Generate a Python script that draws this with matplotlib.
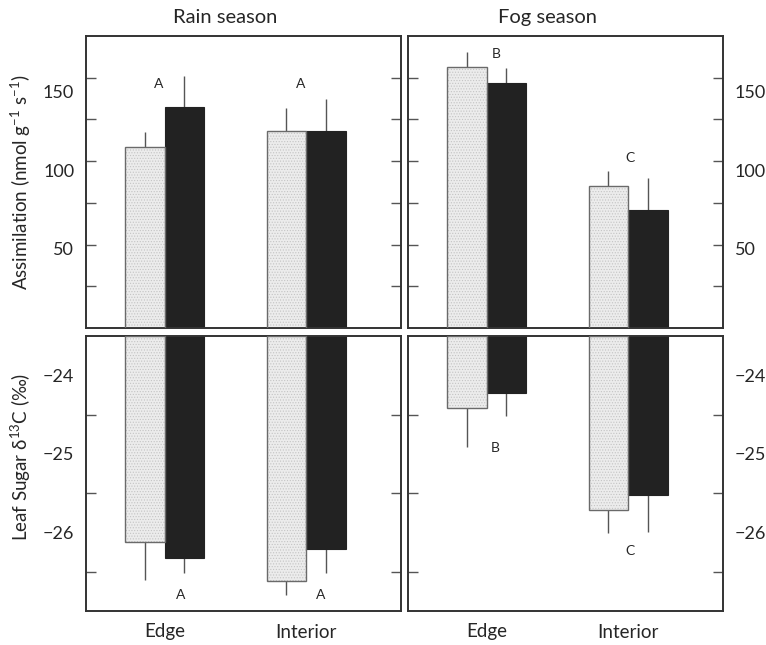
import numpy as np
import matplotlib
matplotlib.use('Agg')
import matplotlib.pyplot as plt
from matplotlib.ticker import FixedLocator, FixedFormatter, NullFormatter

plt.rcParams['font.family'] = ['Lato', 'DejaVu Sans']
plt.rcParams['hatch.linewidth'] = 0.5

groups = ['Edge', 'Interior']
seasons = ['Rain season', 'Fog season']

# Assimilation (nmol g-1 s-1): light = first series, dark = second series
rain_assim_light = [108.6, 118.1]
rain_assim_light_err = [9.0, 14.0]
rain_assim_dark = [132.3, 118.1]
rain_assim_dark_err = [18.5, 19.0]
fog_assim_light = [156.2, 84.9]
fog_assim_light_err = [9.0, 9.3]
fog_assim_dark = [146.8, 70.9]
fog_assim_dark_err = [9.0, 18.7]

# Leaf sugar d13C (permil)
rain_d13c_light = [-26.12, -26.62]
rain_d13c_light_err = [0.49, 0.18]
rain_d13c_dark = [-26.32, -26.21]
rain_d13c_dark_err = [0.20, 0.31]
fog_d13c_light = [-24.41, -25.71]
fog_d13c_light_err = [0.50, 0.30]
fog_d13c_dark = [-24.22, -25.52]
fog_d13c_dark_err = [0.30, 0.48]

# significance letters and where they sit (value axis)
rain_assim_letters = ['A', 'A']
rain_assim_letter_y = [146, 146]
fog_assim_letters = ['B', 'C']
fog_assim_letter_y = [164, 102]
rain_d13c_letters = ['A', 'A']
rain_d13c_letter_y = [-26.8, -26.8]
fog_d13c_letters = ['B', 'C']
fog_d13c_letter_y = [-24.93, -26.23]

# tick marks and labels; in the original the assimilation labels sit
# a little below their tick marks
assim_ticks = [25, 50, 75, 100, 125, 150]
assim_labels = ['50', '100', '150']
assim_label_y = [47.6, 94.6, 141.6]
d13c_ticks = [-26.5, -26, -25.5, -25, -24.5, -24]
d13c_labels = ['\u221226', '\u221225', '\u221224']
d13c_label_y = [-26, -25, -24]

W = 766 / 100
H = 645 / 100
fig = plt.figure(figsize=(W, H), dpi=100)


def px_axes(left, top, right, bottom):
    return fig.add_axes([left / 766, 1 - bottom / 645,
                         (right - left) / 766, (bottom - top) / 645])


ax_tl = px_axes(86, 36, 401, 328)
ax_tr = px_axes(408, 36, 723, 328)
ax_bl = px_axes(86, 336, 401, 611)
ax_br = px_axes(408, 336, 723, 611)

x = np.arange(len(groups))
width = 0.28
edge_gray = '#6a6a6a'
err_color = '#555555'
text_color = '#262626'


def draw_bars(ax, light, light_err, dark, dark_err, base, down):
    light = np.array(light)
    dark = np.array(dark)
    for pos, vals, errs, dark_bar in [(x - width / 2, light, light_err, False),
                                      (x + width / 2, dark, dark_err, True)]:
        if dark_bar:
            ax.bar(pos, vals - base, width, bottom=base, color='#222222',
                   edgecolor='#222222', linewidth=0.8, zorder=2)
        else:
            ax.bar(pos, vals - base, width, bottom=base, color='#ececec',
                   edgecolor='#c4c4c4', hatch='......', linewidth=0, zorder=2)
            ax.bar(pos, vals - base, width, bottom=base, fill=False,
                   edgecolor=edge_gray, linewidth=1.0, zorder=3)
        zeros = np.zeros(len(errs))
        yerr = [errs, zeros] if down else [zeros, errs]
        ax.errorbar(pos, vals, yerr=yerr, fmt='none', ecolor=err_color,
                    elinewidth=1.0, capsize=0, zorder=1)


draw_bars(ax_tl, rain_assim_light, rain_assim_light_err,
          rain_assim_dark, rain_assim_dark_err, 0, False)
draw_bars(ax_tr, fog_assim_light, fog_assim_light_err,
          fog_assim_dark, fog_assim_dark_err, 0, False)
draw_bars(ax_bl, rain_d13c_light, rain_d13c_light_err,
          rain_d13c_dark, rain_d13c_dark_err, -23.5, True)
draw_bars(ax_br, fog_d13c_light, fog_d13c_light_err,
          fog_d13c_dark, fog_d13c_dark_err, -23.5, True)

# letters
letter_kw = dict(ha='center', va='center', fontsize=10, color=text_color)
for ax, letters, ys, offs in [
        (ax_tl, rain_assim_letters, rain_assim_letter_y, [-0.04, -0.04]),
        (ax_tr, fog_assim_letters, fog_assim_letter_y, [0.07, 0.01]),
        (ax_bl, rain_d13c_letters, rain_d13c_letter_y, [0.11, 0.105]),
        (ax_br, fog_d13c_letters, fog_d13c_letter_y, [0.06, 0.01])]:
    for i, (lab, yv) in enumerate(zip(letters, ys)):
        ax.text(x[i] + offs[i], yv, lab, **letter_kw)

for ax in [ax_tl, ax_tr]:
    ax.set_ylim(0, 175)
    ax.yaxis.set_minor_locator(FixedLocator(assim_ticks))
    ax.yaxis.set_major_locator(FixedLocator(assim_label_y))
    ax.yaxis.set_major_formatter(FixedFormatter(assim_labels))
for ax in [ax_bl, ax_br]:
    ax.set_ylim(-27.0, -23.5)
    ax.yaxis.set_minor_locator(FixedLocator(d13c_ticks))
    ax.yaxis.set_major_locator(FixedLocator(d13c_label_y))
    ax.yaxis.set_major_formatter(FixedFormatter(d13c_labels))

for ax in [ax_tl, ax_tr, ax_bl, ax_br]:
    ax.set_xlim(-0.556, 1.67)
    for sp in ax.spines.values():
        sp.set_color('#333333')
        sp.set_linewidth(1.4)
    ax.yaxis.set_minor_formatter(NullFormatter())
    ax.tick_params(axis='y', which='minor', direction='in', left=True,
                   right=True, length=7, width=1, color='#555555')
    ax.tick_params(axis='y', which='major', direction='in', left=True,
                   right=True, length=0, labelsize=13,
                   labelcolor=text_color, pad=8.5)
    ax.tick_params(axis='x', length=0)

for ax in [ax_tr, ax_br]:
    ax.tick_params(axis='y', which='both', labelleft=False, labelright=True)

for ax in [ax_tl, ax_tr]:
    ax.set_xticks([])
for ax in [ax_bl, ax_br]:
    ax.set_xticks(x)
    ax.set_xticklabels(groups, fontsize=13.5, color=text_color)
    ax.tick_params(axis='x', pad=9)

for ax, title in zip([ax_tl, ax_tr], seasons):
    ax.text(0.43, 1.045, title, transform=ax.get_xaxis_transform(),
            ha='center', va='baseline', fontsize=14.5, color=text_color)

ax_tl.set_ylabel('Assimilation (nmol g$^{\\mathregular{-1}}$ s$^{\\mathregular{-1}}$)',
                 fontsize=13.5, color=text_color)
ax_tl.yaxis.set_label_coords(-0.168, 0.5)
ax_bl.set_ylabel('Leaf Sugar \u03b4$^{\\mathregular{13}}$C (\u2030)',
                 fontsize=13.5, color=text_color)
ax_bl.yaxis.set_label_coords(-0.168, 0.56)

fig.savefig('out.png', dpi=100, facecolor='white')
